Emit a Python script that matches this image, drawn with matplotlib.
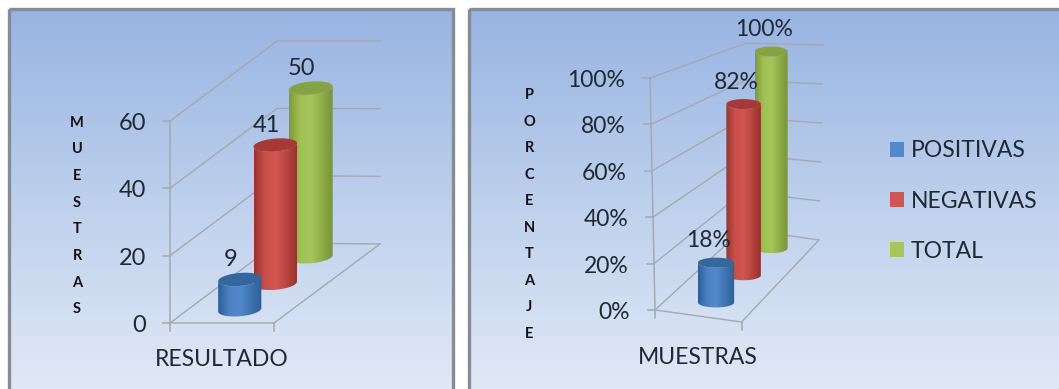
import numpy as np
import matplotlib
matplotlib.use("Agg")
import matplotlib.pyplot as plt
from matplotlib.colors import LinearSegmentedColormap
from matplotlib.patches import Polygon, Rectangle, Patch

# ---- data ----
series_names = ["POSITIVAS", "NEGATIVAS", "TOTAL"]
counts = [9, 41, 50]
percents = [18, 82, 100]
count_ticks = [0, 20, 40, 60]
percent_ticks = [0, 20, 40, 60, 80, 100]
left_xlabel = "RESULTADO"
right_xlabel = "MUESTRAS"
left_ylabel = "MUESTRAS"
right_ylabel = "PORCENTAJE"

# ---- styles ----
plt.rcParams["font.family"] = ["Lato", "DejaVu Sans"]
TXT = "#1f2933"
GRID = "#a3a9b1"
RAMPS = [
    ["#2c5f99", "#4b82c3", "#5189cb", "#3f74b0", "#2d5f97"],
    ["#98332f", "#c94f4a", "#d05651", "#b8443f", "#94322e"],
    ["#7d9a3b", "#a0c054", "#a6c65c", "#90ae48", "#779438"],
]
TOPS = ["#34679d", "#a63935", "#85a340"]

fig = plt.figure(figsize=(10.59, 3.89), dpi=100, facecolor="white")
ax = fig.add_axes([0, 0, 1, 1])
ax.set_axis_off()

bg = LinearSegmentedColormap.from_list("bg", ["#98b4e2", "#bdd0ec", "#e2e9f6"])
grad = np.linspace(0, 1, 256).reshape(-1, 1)


def panel(x0, x1, y0=9, y1=392):
    ax.imshow(grad, cmap=bg, extent=(x0, x1, y1, y0), aspect="auto", zorder=0)
    ax.add_patch(Rectangle((x0, y0), x1 - x0, y1 - y0, fc="none", ec="#878c93", lw=2.4, zorder=1))


def make_proj(c, vmax):
    def proj(x, d, v):
        f = v / vmax
        bot = lambda k: (1 - x) * ((1 - d) * c["FL" + k] + d * c["BL" + k]) + x * ((1 - d) * c["FR" + k] + d * c["BR" + k])
        return (1 - f) * bot("B") + f * bot("T")
    return proj


def draw_chart(values, ticks, corners, fmt, r_front, r_back, b, shear, lab_off, tick_gap, fs, dx=0):
    c = {k: np.array(v, float) for k, v in corners.items()}
    vmax = ticks[-1]
    proj = make_proj(c, vmax)
    # walls
    for t in ticks:
        pts = np.array([proj(0, 0, t), proj(0, 1, t), proj(1, 1, t)])
        ax.plot(pts[:, 0], pts[:, 1], color=GRID, lw=1, zorder=2, solid_joinstyle="miter")
        p = proj(0, 0, t)
        ax.plot([p[0] - 7, p[0]], [p[1], p[1]], color=GRID, lw=1.1, zorder=2)
        ax.text(p[0] - tick_gap, p[1] + 2.5, fmt.format(t), ha="right", va="center", fontsize=fs, color=TXT, zorder=6)
    pts = np.array([proj(0, 0, 0), proj(1, 0, 0), proj(1, 1, 0)])
    ax.plot(pts[:, 0], pts[:, 1], color=GRID, lw=1, zorder=2)
    pts = np.array([proj(0, 0, 0), proj(0, 0, vmax)])
    ax.plot(pts[:, 0], pts[:, 1], color=GRID, lw=1.1, zorder=2)
    for x in (0, 1):
        p = proj(x, 0, 0)
        ax.plot([p[0], p[0]], [p[1], p[1] + 8], color=GRID, lw=1.1, zorder=2)
    # cylinders, back to front
    th = np.linspace(0, np.pi, 60)
    for i in range(len(values) - 1, -1, -1):
        d = (i + 0.5) / len(values)
        a = r_front + (r_back - r_front) * d
        base = proj(0.5, d, 0)
        top = proj(0.5, d, values[i])
        cx, by, ty = base[0] + dx, base[1], top[1]
        ex = a * np.cos(th)
        ey = b * np.sin(th)
        body = np.vstack([
            np.column_stack([cx + ex, by + ey - shear * ex]),
            np.column_stack([(cx + ex)[::-1], (ty + ey - shear * ex)[::-1] - 0]),
        ])
        z = 3 + (len(values) - i) * 0.1
        poly = Polygon(body, closed=True, fc="none", ec="none", transform=ax.transData)
        ax.add_patch(poly)
        cmap = LinearSegmentedColormap.from_list("c%d" % i, RAMPS[i])
        im = ax.imshow(np.linspace(0, 1, 128).reshape(1, -1), cmap=cmap,
                       extent=(cx - a, cx + a, by + b + 4, ty - b - 4), aspect="auto", zorder=z)
        im.set_clip_path(poly)
        tt = np.linspace(0, 2 * np.pi, 80)
        ex2 = a * np.cos(tt)
        cap = np.column_stack([cx + ex2, ty + b * np.sin(tt) - shear * ex2])
        ax.add_patch(Polygon(cap, closed=True, fc=TOPS[i], ec="none", zorder=z + 0.01))
        ax.text(cx + lab_off[0], ty + lab_off[1], fmt.format(values[i]), ha="center", va="center",
                fontsize=fs, color=TXT, zorder=6)


panel(9, 453)
panel(468.5, 1075)

draw_chart(counts, count_ticks,
           dict(FLB=(170, 323), FRB=(274, 323), BLB=(277, 243), BRB=(380, 244),
                FLT=(170, 121), FRT=(274, 121), BLT=(277, 41), BRT=(380, 41)),
           "{}", 21.5, 22, 6.5, 0.08, (-9, -20), 24, 17)
draw_chart(percents, percent_ticks,
           dict(FLB=(655, 310), FRB=(741.5, 322), BLB=(743, 229), BRB=(819, 240),
                FLT=(650, 78), FRT=(738, 100), BLT=(746.5, 43), BRT=(823, 45)),
           "{}%", 18.5, 16, 5, 0, (-7, -22), 25, 16.5, dx=4)

ax.text(222, 360, left_xlabel, ha="center", va="center", fontsize=16.5, color=TXT)
ax.text(698, 358, right_xlabel, ha="center", va="center", fontsize=16.5, color=TXT)
ax.text(77, 216, "\n".join(left_ylabel), ha="center", va="center", fontsize=10.5, fontweight="bold",
        color="#111111", linespacing=2.15)
ax.text(529, 214.5, "\n".join(right_ylabel), ha="center", va="center", fontsize=10.5, fontweight="bold",
        color="#111111", linespacing=2.14)

handles = [Patch(fc=RAMPS[i][2], ec="none", label=series_names[i]) for i in range(3)]
leg = ax.legend(handles=handles, loc="center left", bbox_to_anchor=(890, 201),
                bbox_transform=ax.transData, frameon=False, fontsize=16.5, labelcolor=TXT,
                handlelength=0.62, handleheight=0.62, handletextpad=0.3, labelspacing=1.27,
                borderpad=0, borderaxespad=0)

ax.set_xlim(0, 1059)
ax.set_ylim(389, 0)
fig.savefig("out.png", dpi=100, facecolor="white")
